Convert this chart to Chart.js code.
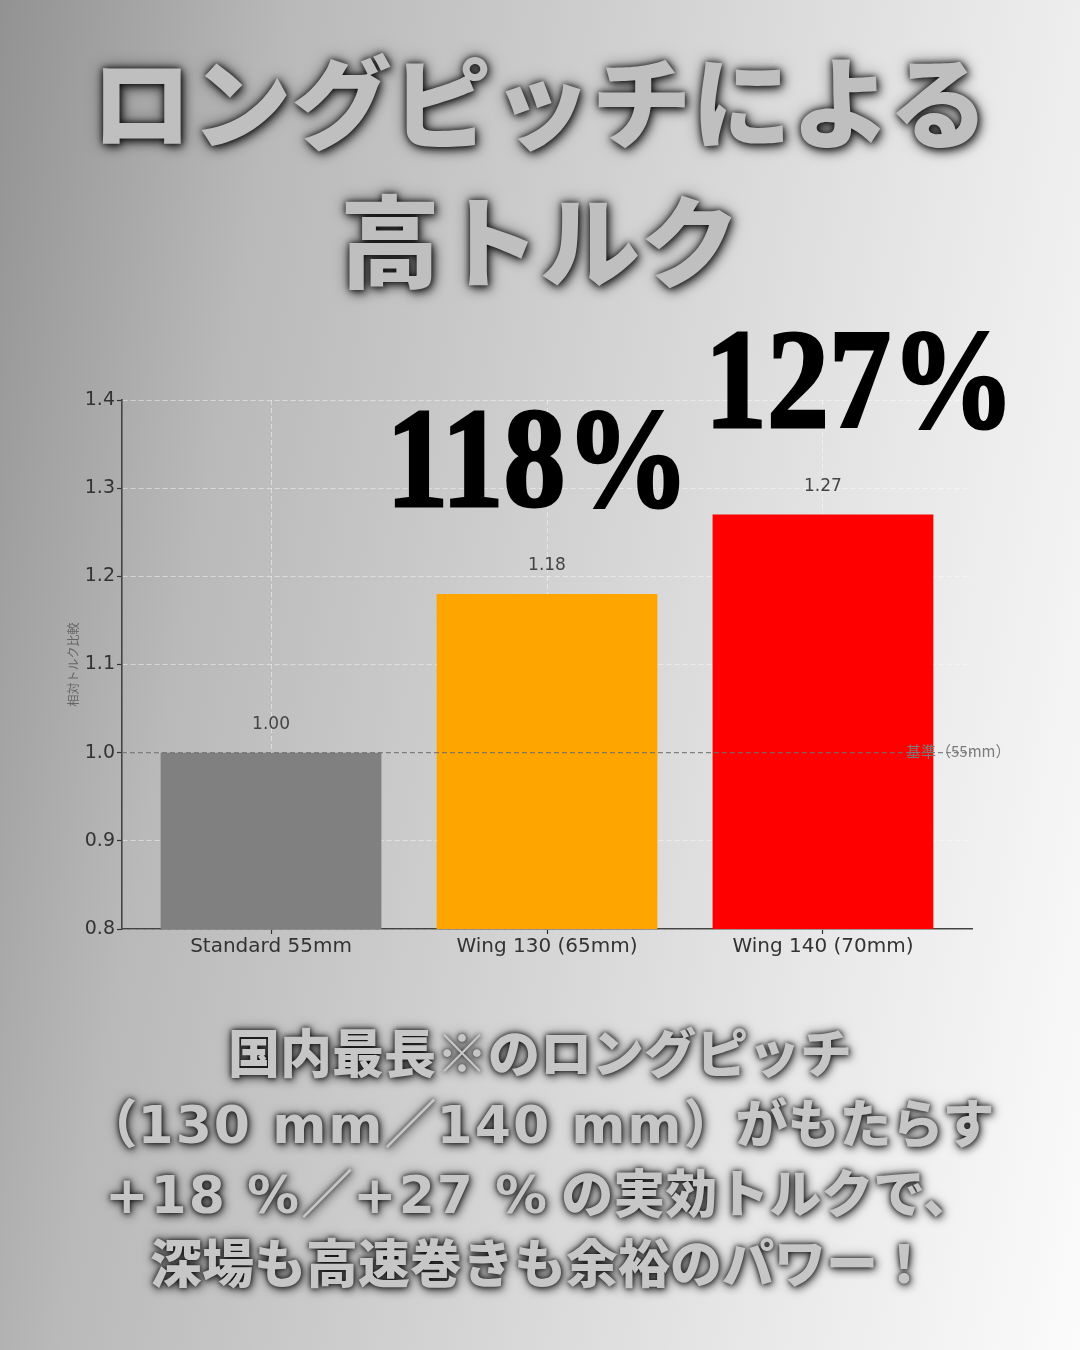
<!DOCTYPE html>
<html lang="ja">
<head>
<meta charset="utf-8">
<script src="https://cdn.jsdelivr.net/npm/chart.js@4.4.1/dist/chart.umd.min.js"></script>
<style>
  html, body { margin:0; padding:0; }
  body {
    width:1080px; height:1350px; overflow:hidden; position:relative;
    background: linear-gradient(100deg, #929292 0%, #b9b9b9 22%, #d2d2d2 50%, #e8e8e8 75%, #fbfbfb 100%);
    font-family: "Noto Sans CJK JP", "Noto Sans", sans-serif;
  }
  .title {
    position:absolute; left:0; top:28px; width:1080px; text-align:center;
    font-size:100px; line-height:139px; font-weight:900; color:#bfbfbf;
    text-shadow: 0 0 6px rgba(0,0,0,0.9), 0 0 16px rgba(0,0,0,0.55), 3px 4px 10px rgba(0,0,0,0.5);
    white-space:nowrap;
  }
  .bottom {
    position:absolute; left:0; top:1016px; width:1080px; text-align:center;
    font-size:52px; font-weight:900; color:#c6c6c6;
    text-shadow: 0 0 5px rgba(0,0,0,0.9), 0 0 12px rgba(0,0,0,0.55), 2px 3px 8px rgba(0,0,0,0.45);
    white-space:nowrap;
  }
  .bottom div { height:70px; line-height:70px; }
  .bottom .lat { font-family: "DejaVu Sans", "Noto Sans CJK JP", sans-serif; font-weight:bold; letter-spacing:2px; line-height:1; }
  #wrap { position:absolute; left:0; top:290px; width:1080px; height:690px; }
</style>
</head>
<body>
<div class="title">ロングピッチによる<br>高トルク</div>
<div id="wrap"><canvas id="c"></canvas></div>
<div class="bottom">
  <div>国内最長※のロングピッチ</div>
  <div>（<span class="lat">130 mm</span>／<span class="lat">140 mm</span>）がもたらす</div>
  <div><span class="lat">+18 %</span>／<span class="lat">+27 %</span> の実効トルクで、</div>
  <div>深場も高速巻きも余裕のパワー！</div>
</div>
<script>
const categories = ['Standard 55mm', 'Wing 130 (65mm)', 'Wing 140 (70mm)'];
const torqueRatio = [1.00, 1.18, 1.27];
const barColors = ['#808080', '#FFA500', '#FF0000'];
const highlightLabels = [null, '118%', '127%'];
const yTickValues = [0.8, 0.9, 1.0, 1.1, 1.2, 1.3, 1.4];
const referenceValue = 1.0;
const referenceLabel = '基準（55mm）';
const yAxisTitle = '相対トルク比較';

const overlayPlugin = {
  id: 'overlay',
  afterDatasetsDraw(chart) {
    const {ctx, chartArea, scales} = chart;
    const yRef = scales.y.getPixelForValue(referenceValue);
    ctx.save();
    ctx.strokeStyle = 'rgba(110,110,110,0.85)';
    ctx.lineWidth = 1.3;
    ctx.setLineDash([5, 3]);
    ctx.beginPath();
    ctx.moveTo(chartArea.left, yRef);
    ctx.lineTo(chartArea.right, yRef);
    ctx.stroke();
    ctx.restore();
  },
  afterDraw(chart) {
    const {ctx, chartArea, scales} = chart;
    const meta = chart.getDatasetMeta(0);
    ctx.save();
    ctx.font = '17px "DejaVu Sans"';
    ctx.fillStyle = '#444';
    ctx.textAlign = 'center';
    ctx.textBaseline = 'middle';
    meta.data.forEach((bar, i) => {
      ctx.fillText(torqueRatio[i].toFixed(2), bar.x, bar.y - 28);
    });
    const yRef = scales.y.getPixelForValue(referenceValue);
    ctx.font = '15px "Noto Sans CJK JP", "DejaVu Sans"';
    ctx.fillStyle = '#7a7a7a';
    ctx.textAlign = 'left';
    ctx.fillText(referenceLabel, chartArea.right - 66, yRef - 1);
    ctx.save();
    ctx.translate(73, (chartArea.top + chartArea.bottom) / 2);
    ctx.rotate(-Math.PI / 2);
    ctx.font = '12px "Noto Sans CJK JP"';
    ctx.fillStyle = '#666';
    ctx.textAlign = 'center';
    ctx.fillText(yAxisTitle, 0, 0);
    ctx.restore();
    const dx = [0, -9, 37];
    meta.data.forEach((bar, i) => {
      if (!highlightLabels[i]) return;
      ctx.save();
      ctx.translate(bar.x + dx[i], bar.y - 88);
      ctx.scale(0.88, 1);
      ctx.font = 'bold 141px "Liberation Serif", "DejaVu Serif", serif';
      ctx.fillStyle = '#000';
      ctx.strokeStyle = '#000';
      ctx.lineWidth = 3;
      ctx.textAlign = 'center';
      ctx.textBaseline = 'alphabetic';
      ctx.fillText(highlightLabels[i], 0, 0);
      ctx.strokeText(highlightLabels[i], 0, 0);
      ctx.restore();
    });
    ctx.restore();
  }
};

new Chart(document.getElementById('c'), {
  type: 'bar',
  data: {
    datasets: [{
      data: torqueRatio.map((v, i) => ({x: i, y: v})),
      backgroundColor: barColors,
      borderWidth: 0,
      barPercentage: 0.8,
      categoryPercentage: 1.0
    }]
  },
  options: {
    responsive: true,
    maintainAspectRatio: false,
    animation: false,
    layout: { padding: { left: 0, right: 108, top: 110, bottom: 0 } },
    plugins: { legend: { display: false }, tooltip: { enabled: false } },
    scales: {
      x: {
        type: 'linear',
        min: -0.54, max: 2.54,
        offset: false,
        z: 1,
        afterFit(scale) { scale.height = 51; },
        afterBuildTicks(scale) { scale.ticks = categories.map((c, i) => ({value: i})); },
        ticks: {
          callback: (v) => categories[v],
          font: { family: 'DejaVu Sans', size: 20 },
          color: '#333',
          padding: 1,
          maxRotation: 0, autoSkip: false
        },
        grid: {
          offset: false,
          color: 'rgba(255,255,255,0.45)', lineWidth: 1,
          tickLength: 5, tickColor: '#333', tickWidth: 1.2
        },
        border: { display: true, color: '#444', width: 1.6, dash: [5, 3] }
      },
      y: {
        min: 0.8, max: 1.4,
        z: 1,
        afterFit(scale) { scale.width = 122; },
        afterBuildTicks(scale) { scale.ticks = yTickValues.map(v => ({value: v})); },
        ticks: {
          callback: (v) => v.toFixed(1),
          font: { family: 'DejaVu Sans', size: 19 },
          color: '#333',
          padding: 2
        },
        grid: {
          color: 'rgba(255,255,255,0.45)', lineWidth: 1,
          tickLength: 5, tickColor: '#333', tickWidth: 1.2
        },
        border: { display: true, color: '#444', width: 1.6, dash: [5, 3] }
      }
    }
  },
  plugins: [overlayPlugin]
});
</script>
</body>
</html>
